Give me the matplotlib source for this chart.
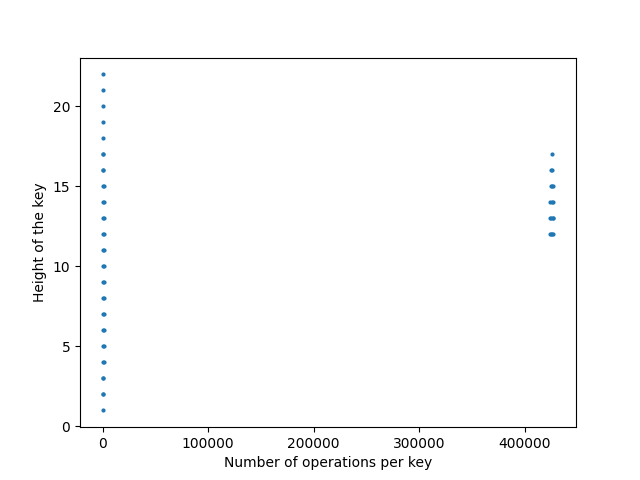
import matplotlib
matplotlib.use("Agg")
import matplotlib.pyplot as plt

# heights of keys and how many operations hit each one
heights_low = [1, 2, 2, 3, 3, 4, 4, 5, 5, 6, 6, 7, 7, 8, 8, 9, 9, 10, 10,
               11, 11, 12, 12, 13, 13, 14, 14, 15, 15, 16, 16, 17, 17,
               18, 19, 20, 21, 22]
ops_low = [10, 0, 900, 0, 900, 0, 1100, 0, 1200, 0, 1200, 0, 1200, 0, 1200,
           0, 1200, 0, 1200, 0, 1200, 0, 1200, 0, 1200, 0, 1100, 0, 1000,
           0, 800, 0, 600, 300, 200, 100, 50, 20]

heights_high = [12, 12, 12, 12, 13, 13, 13, 13, 14, 14, 14, 15, 15, 15,
                16, 16, 17]
ops_high = [423500, 424800, 426000, 427000, 423800, 425000, 426200, 426900,
            424000, 425200, 426300, 424300, 425300, 426100, 424800, 425600,
            425400]

fig, ax = plt.subplots(figsize=(6.4, 4.8), dpi=100)
ax.scatter(ops_low + ops_high, heights_low + heights_high, s=4, color="#1f77b4")
ax.set_xlabel("Number of operations per key")
ax.set_ylabel("Height of the key")

plt.savefig("out.png", dpi=100)
plt.close()
